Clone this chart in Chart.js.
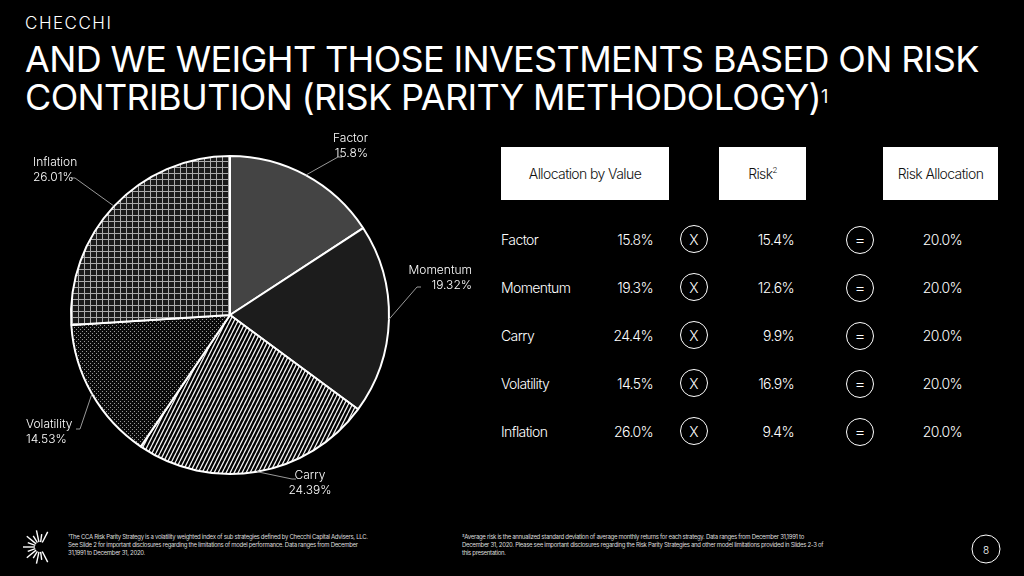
<!DOCTYPE html>
<html><head><meta charset="utf-8">
<script src="https://cdn.jsdelivr.net/npm/chart.js@4"></script>
<style>
body{margin:0;width:1024px;height:576px;background:#000;color:#fff;font-family:Inter,"Liberation Sans",sans-serif;position:relative;overflow:hidden}
.abs{position:absolute}
#brand{left:25px;top:13px;font-size:17px;letter-spacing:1.5px;font-weight:300}
#title{left:25px;top:40px;font-size:36px;line-height:38px;font-weight:400;letter-spacing:-0.65px;white-space:nowrap}
#title sup{font-size:18px;vertical-align:top;position:relative;top:0px}
.box{background:#fff;color:#111;font-size:14px;display:flex;align-items:center;justify-content:center;height:53px;top:147px;letter-spacing:-0.6px;font-weight:300}
.cell{font-size:14px;letter-spacing:-0.6px;transform:translateY(-50%);font-weight:300}
.circ{width:26px;height:26px;border:1.3px solid #fff;border-radius:50%;display:flex;align-items:center;justify-content:center;font-size:14px;transform:translate(-50%,-50%);font-weight:300}
.foot{font-size:6px;line-height:8px;letter-spacing:-0.3px;color:#ddd}
</style></head><body>
<div id="brand" class="abs">CHECCHI</div>
<div id="title" class="abs">AND WE WEIGHT THOSE INVESTMENTS BASED ON RISK<br>CONTRIBUTION (RISK PARITY METHODOLOGY)<sup>1</sup></div>
<div class="abs" style="left:0;top:125px;width:480px;height:380px"><canvas id="c"></canvas></div>
<div id="table"></div>
<svg class="abs" style="left:22px;top:527px" width="36" height="40" viewBox="0 0 36 40" id="logo"></svg>
<div class="abs foot" style="left:68px;top:533px;width:300px">¹The CCA Risk Parity Strategy is a volatility weighted index of sub strategies defined by Checchi Capital Advisers, LLC. See Slide 2 for important disclosures regarding the limitations of model performance. Data ranges from December 31,1991 to December 31, 2020.</div>
<div class="abs foot" style="left:462px;top:533px;width:365px">²Average risk is the annualized standard deviation of average monthly returns for each strategy. Data ranges from December 31,1991 to December 31, 2020. Please see important disclosures regarding the Risk Parity Strategies and other model limitations provided in Slides 2-3 of this presentation.</div>
<div class="abs circ" style="left:986px;top:549px;font-size:10px;width:27px;height:27px">8</div>
<script>
const categories=["Factor","Momentum","Carry","Volatility","Inflation"];
const pieValues=[15.8,19.32,24.39,14.53,26.01];
const pieLabels=["15.8%","19.32%","24.39%","14.53%","26.01%"];
const allocation=["15.8%","19.3%","24.4%","14.5%","26.0%"];
const risk=["15.4%","12.6%","9.9%","16.9%","9.4%"];
const riskAllocation=["20.0%","20.0%","20.0%","20.0%","20.0%"];

let h='';
h+='<div class="abs box" style="left:501px;width:168px">Allocation by Value</div>';
h+='<div class="abs box" style="left:719px;width:87px">Risk<sup style="font-size:8px;position:relative;top:-4px">2</sup></div>';
h+='<div class="abs box" style="left:883px;width:115px">Risk Allocation</div>';
categories.forEach((c,i)=>{const y=239+i*48;
h+=`<div class="abs cell" style="left:501px;top:${y}px">${c}</div>`;
h+=`<div class="abs cell" style="right:${1024-653}px;top:${y}px">${allocation[i]}</div>`;
h+=`<div class="abs circ" style="left:694px;top:${y}px">X</div>`;
h+=`<div class="abs cell" style="right:${1024-794}px;top:${y}px">${risk[i]}</div>`;
h+=`<div class="abs circ" style="left:860px;top:${y+1}px;font-size:17px">=</div>`;
h+=`<div class="abs cell" style="right:${1024-962}px;top:${y}px">${riskAllocation[i]}</div>`;});
document.getElementById('table').innerHTML=h;

let s='';for(let k=0;k<13;k++){const a=Math.PI*0.35+k*Math.PI*1.3/12;const r0=5,r1=(k%2?13:17);s+=`<line x1="${18+Math.cos(a)*r0}" y1="${20-Math.sin(a)*r0}" x2="${18+Math.cos(a)*r1}" y2="${20-Math.sin(a)*r1}" stroke="#fff" stroke-width="1.4"/>`;}
document.getElementById('logo').innerHTML=s;

function pat(type){const c=document.createElement('canvas');const x=c.getContext('2d');
if(type==='grid'){c.width=c.height=6;x.fillStyle='#1a1a1a';x.fillRect(0,0,6,6);x.fillStyle='#aaa';x.fillRect(0,0,6,1);x.fillRect(0,0,1,6);}
else if(type==='diag'){c.width=4;c.height=8;x.fillStyle='#000';x.fillRect(0,0,4,8);x.strokeStyle='#eee';x.lineWidth=1.3;x.beginPath();
for(let o=-8;o<=8;o+=4){x.moveTo(o,8);x.lineTo(o+4,0);}x.stroke();}
else {c.width=c.height=4;x.fillStyle='#0a0a0a';x.fillRect(0,0,4,4);x.fillStyle='#999';x.fillRect(0,0,1,1);x.fillRect(2,2,1,1);}
return x.createPattern(c,'repeat');}

const labelPos=[[368,136,'right'],[472,268,'right'],[310,473,'center'],[26,422,'left'],[33,160,'left']];
const elbow=[[338,157],[417,287],[292,479],[80,429],[75,178]];
const labelsPlugin={id:'lbl',afterDraw(ch){const ctx=ch.ctx;const top=125;
ch.getDatasetMeta(0).data.forEach((a,i)=>{const mid=(a.startAngle+a.endAngle)/2;
const px=a.x+Math.cos(mid)*a.outerRadius,py=a.y+Math.sin(mid)*a.outerRadius;
const [ex,ey]=elbow[i];ctx.strokeStyle='#999';ctx.lineWidth=1;ctx.beginPath();ctx.moveTo(px,py);ctx.lineTo(ex,ey-top);
const lp=labelPos[i];
ctx.lineTo(lp[2]==='left'?ex-4:ex+4,ey-top);ctx.stroke();
ctx.fillStyle='#fff';ctx.font='300 12px Inter, "Liberation Sans", sans-serif';ctx.textAlign=lp[2];ctx.textBaseline='middle';
ctx.fillText(categories[i],lp[0],lp[1]-top+2);ctx.fillText(pieLabels[i],lp[0],lp[1]-top+17);});}};

new Chart(document.getElementById('c'),{type:'pie',
data:{labels:categories,datasets:[{data:pieValues,backgroundColor:['#444',"#1c1c1c",pat('diag'),pat('dots'),pat('grid')],borderColor:'#fff',borderWidth:2}]},
options:{responsive:true,maintainAspectRatio:false,animation:false,layout:{padding:{top:30,bottom:30,left:0,right:20}},
plugins:{legend:{display:false},tooltip:{enabled:false}}},plugins:[labelsPlugin]});
</script></body></html>
